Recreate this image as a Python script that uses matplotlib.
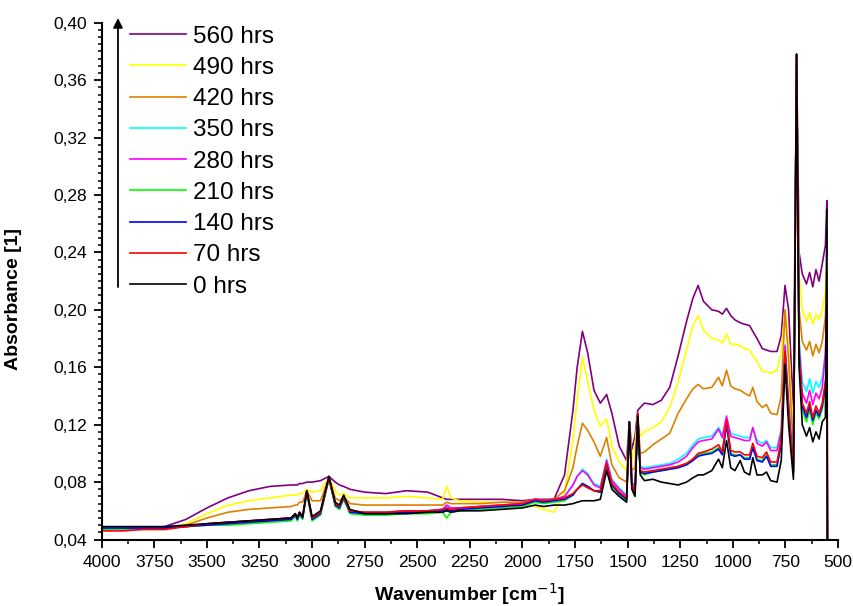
import matplotlib.pyplot as plt
from matplotlib.ticker import MultipleLocator, FuncFormatter

plt.rcParams['font.family'] = ['Liberation Sans', 'DejaVu Sans']

# FTIR absorbance spectra after increasing exposure time
wavenumber = [4000, 3900, 3800, 3700, 3600, 3500, 3400, 3300, 3200, 3100,
              3080, 3070, 3060, 3045, 3025, 3000, 2960, 2920, 2890, 2870,
              2850, 2820, 2750, 2650, 2550, 2450, 2380, 2360, 2340, 2300,
              2200, 2100, 2000, 1940, 1900, 1850, 1800, 1760, 1740, 1715,
              1690, 1660, 1630, 1600, 1575, 1540, 1505, 1492, 1480, 1465,
              1452, 1440, 1420, 1380, 1340, 1300, 1260, 1220, 1190, 1165,
              1140, 1100, 1068, 1050, 1030, 1010, 990, 965, 945, 920,
              905, 885, 860, 840, 820, 790, 770, 752, 735, 712,
              697, 685, 670, 650, 635, 620, 605, 590, 575, 560,
              553, 550]

absorb_560h = [0.048, 0.048, 0.048, 0.049, 0.054, 0.062, 0.069, 0.074, 0.077, 0.078,
               0.078, 0.078, 0.079, 0.079, 0.080, 0.080, 0.081, 0.084, 0.080, 0.078,
               0.077, 0.075, 0.073, 0.072, 0.074, 0.073, 0.069, 0.068, 0.068, 0.068,
               0.068, 0.068, 0.067, 0.068, 0.068, 0.068, 0.085, 0.130, 0.160, 0.185,
               0.170, 0.144, 0.135, 0.141, 0.128, 0.105, 0.095, 0.122, 0.103, 0.112,
               0.130, 0.132, 0.135, 0.134, 0.137, 0.146, 0.168, 0.192, 0.208, 0.217,
               0.206, 0.200, 0.199, 0.197, 0.201, 0.196, 0.193, 0.191, 0.190, 0.189,
               0.185, 0.180, 0.173, 0.172, 0.171, 0.171, 0.182, 0.217, 0.200, 0.130,
               0.378, 0.240, 0.225, 0.218, 0.226, 0.216, 0.228, 0.220, 0.232, 0.245,
               0.276, 0.0]

absorb_490h = [0.047, 0.047, 0.047, 0.047, 0.051, 0.058, 0.064, 0.067, 0.069, 0.071,
               0.071, 0.071, 0.072, 0.072, 0.075, 0.073, 0.074, 0.083, 0.074, 0.071,
               0.072, 0.069, 0.069, 0.069, 0.070, 0.069, 0.068, 0.077, 0.069, 0.067,
               0.066, 0.066, 0.065, 0.063, 0.061, 0.059, 0.072, 0.110, 0.138, 0.167,
               0.150, 0.130, 0.119, 0.124, 0.105, 0.094, 0.088, 0.122, 0.096, 0.105,
               0.127, 0.112, 0.115, 0.118, 0.122, 0.132, 0.150, 0.172, 0.189, 0.196,
               0.186, 0.180, 0.179, 0.177, 0.183, 0.176, 0.176, 0.175, 0.173, 0.172,
               0.168, 0.164, 0.157, 0.157, 0.156, 0.158, 0.170, 0.200, 0.175, 0.110,
               0.378, 0.225, 0.200, 0.192, 0.198, 0.190, 0.197, 0.193, 0.200, 0.212,
               0.237, 0.0]

absorb_420h = [0.048, 0.048, 0.048, 0.048, 0.050, 0.055, 0.059, 0.061, 0.062, 0.063,
               0.064, 0.064, 0.066, 0.066, 0.074, 0.067, 0.067, 0.083, 0.069, 0.067,
               0.070, 0.065, 0.064, 0.064, 0.064, 0.064, 0.064, 0.066, 0.065, 0.065,
               0.065, 0.066, 0.066, 0.068, 0.067, 0.068, 0.074, 0.090, 0.105, 0.121,
               0.116, 0.108, 0.098, 0.111, 0.092, 0.083, 0.080, 0.122, 0.088, 0.090,
               0.126, 0.100, 0.101, 0.106, 0.110, 0.114, 0.128, 0.138, 0.145, 0.148,
               0.145, 0.146, 0.153, 0.147, 0.158, 0.147, 0.145, 0.144, 0.142, 0.140,
               0.146, 0.136, 0.132, 0.134, 0.128, 0.127, 0.140, 0.200, 0.165, 0.100,
               0.378, 0.200, 0.178, 0.172, 0.178, 0.168, 0.176, 0.170, 0.178, 0.195,
               0.228, 0.0]

absorb_350h = [0.048, 0.048, 0.048, 0.048, 0.049, 0.051, 0.052, 0.053, 0.054, 0.055,
               0.058, 0.055, 0.059, 0.056, 0.074, 0.055, 0.059, 0.083, 0.065, 0.063,
               0.070, 0.060, 0.059, 0.059, 0.060, 0.060, 0.061, 0.063, 0.062, 0.062,
               0.063, 0.064, 0.065, 0.068, 0.067, 0.068, 0.070, 0.078, 0.084, 0.089,
               0.086, 0.079, 0.077, 0.096, 0.082, 0.076, 0.071, 0.122, 0.081, 0.076,
               0.128, 0.091, 0.090, 0.091, 0.092, 0.093, 0.096, 0.100, 0.106, 0.110,
               0.111, 0.112, 0.118, 0.113, 0.124, 0.114, 0.113, 0.112, 0.111, 0.111,
               0.118, 0.109, 0.107, 0.109, 0.104, 0.104, 0.117, 0.176, 0.137, 0.092,
               0.378, 0.180, 0.150, 0.143, 0.152, 0.142, 0.150, 0.146, 0.153, 0.170,
               0.190, 0.0]

absorb_280h = [0.047, 0.047, 0.048, 0.048, 0.049, 0.051, 0.052, 0.053, 0.054, 0.055,
               0.058, 0.055, 0.059, 0.056, 0.074, 0.055, 0.059, 0.083, 0.065, 0.063,
               0.070, 0.060, 0.059, 0.059, 0.060, 0.060, 0.061, 0.064, 0.062, 0.062,
               0.063, 0.064, 0.065, 0.068, 0.067, 0.068, 0.070, 0.078, 0.084, 0.088,
               0.085, 0.078, 0.076, 0.095, 0.081, 0.075, 0.070, 0.122, 0.080, 0.075,
               0.128, 0.090, 0.089, 0.090, 0.091, 0.092, 0.094, 0.098, 0.104, 0.108,
               0.109, 0.110, 0.117, 0.111, 0.126, 0.112, 0.111, 0.110, 0.109, 0.109,
               0.118, 0.107, 0.105, 0.108, 0.102, 0.102, 0.115, 0.175, 0.135, 0.090,
               0.378, 0.175, 0.142, 0.135, 0.144, 0.134, 0.142, 0.138, 0.146, 0.170,
               0.205, 0.0]

absorb_210h = [0.047, 0.047, 0.048, 0.048, 0.049, 0.050, 0.050, 0.051, 0.052, 0.053,
               0.056, 0.053, 0.057, 0.054, 0.072, 0.053, 0.057, 0.082, 0.063, 0.061,
               0.068, 0.058, 0.057, 0.057, 0.058, 0.058, 0.059, 0.055, 0.059, 0.060,
               0.061, 0.062, 0.063, 0.066, 0.065, 0.066, 0.067, 0.071, 0.075, 0.079,
               0.077, 0.074, 0.073, 0.091, 0.077, 0.071, 0.067, 0.121, 0.076, 0.071,
               0.127, 0.086, 0.085, 0.087, 0.088, 0.089, 0.091, 0.093, 0.096, 0.099,
               0.100, 0.101, 0.104, 0.100, 0.121, 0.100, 0.099, 0.099, 0.097, 0.097,
               0.105, 0.096, 0.095, 0.099, 0.092, 0.092, 0.108, 0.170, 0.128, 0.086,
               0.378, 0.165, 0.130, 0.122, 0.130, 0.120, 0.128, 0.124, 0.131, 0.145,
               0.152, 0.0]

absorb_140h = [0.048, 0.048, 0.048, 0.048, 0.049, 0.050, 0.051, 0.052, 0.053, 0.054,
               0.057, 0.054, 0.058, 0.055, 0.073, 0.054, 0.058, 0.083, 0.064, 0.062,
               0.069, 0.059, 0.058, 0.058, 0.059, 0.059, 0.060, 0.061, 0.060, 0.061,
               0.062, 0.063, 0.064, 0.067, 0.066, 0.067, 0.068, 0.071, 0.075, 0.079,
               0.077, 0.074, 0.073, 0.092, 0.078, 0.072, 0.068, 0.122, 0.077, 0.072,
               0.127, 0.087, 0.086, 0.087, 0.088, 0.089, 0.090, 0.092, 0.095, 0.098,
               0.099, 0.100, 0.103, 0.099, 0.120, 0.099, 0.098, 0.099, 0.096, 0.096,
               0.104, 0.095, 0.094, 0.098, 0.091, 0.091, 0.107, 0.170, 0.128, 0.087,
               0.378, 0.168, 0.133, 0.125, 0.133, 0.123, 0.130, 0.126, 0.133, 0.148,
               0.155, 0.0]

absorb_70h = [0.046, 0.046, 0.047, 0.047, 0.049, 0.051, 0.052, 0.053, 0.054, 0.055,
              0.058, 0.055, 0.059, 0.056, 0.074, 0.055, 0.059, 0.083, 0.065, 0.063,
              0.070, 0.060, 0.059, 0.059, 0.060, 0.060, 0.061, 0.062, 0.061, 0.062,
              0.063, 0.064, 0.065, 0.068, 0.067, 0.068, 0.069, 0.072, 0.075, 0.078,
              0.076, 0.074, 0.074, 0.093, 0.079, 0.073, 0.069, 0.122, 0.078, 0.073,
              0.128, 0.088, 0.087, 0.088, 0.089, 0.090, 0.091, 0.093, 0.096, 0.100,
              0.101, 0.103, 0.106, 0.101, 0.123, 0.102, 0.101, 0.101, 0.099, 0.099,
              0.107, 0.098, 0.097, 0.101, 0.094, 0.094, 0.110, 0.171, 0.130, 0.088,
              0.378, 0.170, 0.135, 0.128, 0.136, 0.125, 0.133, 0.128, 0.135, 0.150,
              0.160, 0.0]

absorb_0h = [0.049, 0.049, 0.049, 0.049, 0.050, 0.051, 0.052, 0.053, 0.054, 0.055,
             0.058, 0.055, 0.059, 0.056, 0.074, 0.056, 0.060, 0.084, 0.066, 0.064,
             0.071, 0.061, 0.058, 0.058, 0.058, 0.059, 0.059, 0.060, 0.059, 0.060,
             0.060, 0.061, 0.062, 0.064, 0.063, 0.064, 0.064, 0.065, 0.066, 0.067,
             0.067, 0.067, 0.068, 0.088, 0.075, 0.070, 0.066, 0.122, 0.075, 0.070,
             0.126, 0.085, 0.081, 0.082, 0.080, 0.079, 0.078, 0.080, 0.083, 0.085,
             0.085, 0.088, 0.096, 0.090, 0.109, 0.090, 0.088, 0.095, 0.087, 0.085,
             0.097, 0.085, 0.085, 0.087, 0.081, 0.080, 0.095, 0.162, 0.120, 0.082,
             0.378, 0.160, 0.120, 0.112, 0.118, 0.108, 0.115, 0.110, 0.122, 0.125,
             0.270, 0.0]

labels = ['560 hrs', '490 hrs', '420 hrs', '350 hrs', '280 hrs',
          '210 hrs', '140 hrs', '70 hrs', '0 hrs']
colors = ['#800080', '#FFFF00', '#DD8000', '#00FFFF', '#FF00FF',
          '#00FF00', '#0000FF', '#FF0000', '#000000']
spectra = [absorb_560h, absorb_490h, absorb_420h, absorb_350h, absorb_280h,
           absorb_210h, absorb_140h, absorb_70h, absorb_0h]

fig = plt.figure(figsize=(8.54, 6.06), dpi=100)
ax = fig.add_axes([0.1191, 0.1097, 0.8622, 0.8528])

for absorb, col, lab in zip(spectra, colors, labels):
    ax.plot(wavenumber, absorb, color=col, linewidth=1.2, label=lab)

ax.set_xlim(4000, 500)
ax.set_ylim(0.04, 0.40)
ax.xaxis.set_major_locator(MultipleLocator(250))
ax.xaxis.set_minor_locator(MultipleLocator(125))
ax.yaxis.set_major_locator(MultipleLocator(0.04))
ax.yaxis.set_minor_locator(MultipleLocator(0.005))
ax.yaxis.set_major_formatter(FuncFormatter(lambda v, pos: f'{v:.2f}'.replace('.', ',')))

for side in ['top', 'right']:
    ax.spines[side].set_visible(False)
for side in ['left', 'bottom']:
    ax.spines[side].set_linewidth(1.5)

ax.tick_params(which='major', direction='out', length=5.8, width=1.3, labelsize=12.5)
ax.tick_params(which='minor', direction='out', length=3.2, width=1.1)
ax.tick_params(axis='x', which='major', pad=5.5)
ax.tick_params(axis='y', which='major', pad=5)

ax.set_xlabel('Wavenumber [cm$^{-1}$]', fontsize=14, fontweight='bold', labelpad=8)
ax.set_ylabel('Absorbance [1]', fontsize=14, fontweight='bold')
ax.yaxis.set_label_coords(-0.108, 0.4654)

# arrow showing the direction of increasing exposure time
ax.annotate('', xy=(0.0221, 1.009), xytext=(0.0221, 0.4886),
            xycoords='axes fraction', annotation_clip=False,
            arrowprops=dict(arrowstyle='-|>', color='black', lw=1.3,
                            mutation_scale=14, shrinkA=0, shrinkB=0))

ax.legend(loc='upper left', bbox_to_anchor=(0.025, 1.0132), frameon=False,
          fontsize=17.5, handlelength=2.3, handletextpad=0.3,
          labelspacing=0.38, borderaxespad=0.0)

fig.savefig('out.png', dpi=100)
